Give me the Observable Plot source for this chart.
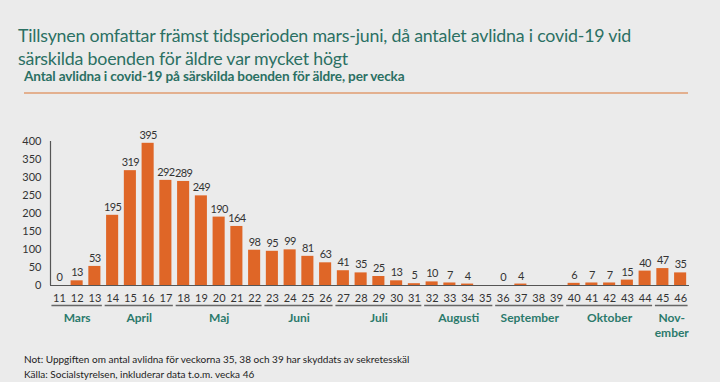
<!DOCTYPE html>
<html><head><meta charset="utf-8">
<script src="https://cdn.jsdelivr.net/npm/d3@7"></script>
<script src="https://cdn.jsdelivr.net/npm/@observablehq/plot@0.6"></script>
<style>
html,body{margin:0;padding:0;background:#ebebeb;width:720px;height:382px;overflow:hidden;font-family:Lato,"Open Sans",sans-serif;}
#title{position:absolute;left:18px;top:24px;font-size:17.8px;line-height:23px;color:#2b7063;letter-spacing:-0.2px;}
#subtitle{position:absolute;left:24px;top:68px;font-size:13.6px;font-weight:bold;color:#2b7063;letter-spacing:-0.15px;}
#line{position:absolute;left:24px;top:92px;width:664px;height:2px;background:#e3b08f;}
#chart{position:absolute;left:0;top:100px;}
#notes{position:absolute;left:24px;top:352px;font-size:10px;line-height:15px;color:#222;}
.vals text{letter-spacing:-0.6px;}
</style></head>
<body>
<div id="title">Tillsynen omfattar främst tidsperioden mars-juni, då antalet avlidna i covid-19 vid<br>särskilda boenden för äldre var mycket högt</div>
<div id="subtitle">Antal avlidna i covid-19 på särskilda boenden för äldre, per vecka</div>
<div id="line"></div>
<div id="chart"></div>
<div id="notes">Not: Uppgiften om antal avlidna för veckorna 35, 38 och 39 har skyddats av sekretesskäl<br>Källa: Socialstyrelsen, inkluderar data t.o.m. vecka 46</div>
<script>
const weeks = [11,12,13,14,15,16,17,18,19,20,21,22,23,24,25,26,27,28,29,30,31,32,33,34,35,36,37,38,39,40,41,42,43,44,45,46];
const deaths = [0,13,53,195,319,395,292,289,249,190,164,98,95,99,81,63,41,35,25,13,5,10,7,4,null,0,4,null,null,6,7,7,15,40,47,35];
const months = ["Mars","April","Maj","Juni","Juli","Augusti","September","Oktober","Nov-\nember"];
const monthFirst = [11,14,18,23,27,32,36,40,45];
const monthLast = [13,17,22,26,31,35,39,44,46];
const yTicks = [0,50,100,150,200,250,300,350,400];

const data = weeks.map((w,i)=>({week:w, value:deaths[i]}));
const known = data.filter(d=>d.value!==null);
const monthData = months.map((m,i)=>({name:m, first:monthFirst[i], last:monthLast[i]}));

const orange = "#df6627";
const teal = "#2b7a6c";
const ink = "#333";

const plot = Plot.plot({
  width: 720, height: 245,
  marginLeft: 50, marginRight: 31, marginTop: 41, marginBottom: 60,
  style: {background: "transparent", fontFamily: "Lato, sans-serif", color: ink, overflow: "visible"},
  x: {domain: [10.5, 46.5], axis: null},
  y: {domain: [0, 400], axis: null},
  marks: [
    Plot.rectY(known.filter(d=>d.value>0), {x1: d=>d.week-0.34, x2: d=>d.week+0.34, y: "value", fill: orange}),
    Plot.ruleX([10.5], {y1: 0, y2: 400, stroke: "#555", strokeWidth: 1.2}),
    Plot.ruleY([0], {x1: 10.5, x2: 46.5, stroke: "#555", strokeWidth: 1.2}),
    Plot.text(yTicks, {x: 10.5, y: d=>d, text: d=>String(d), textAnchor: "end", dx: -9, fontSize: 11, fill: ink}),
    Plot.text(known, {x: "week", y: "value", text: d=>String(d.value), dy: -8, fontSize: 11, fill: ink, className: "vals"}),
    Plot.text(weeks, {x: d=>d, y: 0, text: d=>String(d), dy: 13, fontSize: 11, fill: ink}),
    Plot.ruleY(monthData, {x1: d=>d.first-0.42, x2: d=>d.last+0.42, y: 0, dy: 20, stroke: "#666", strokeWidth: 1.5}),
    Plot.text(monthData, {x: d=>(d.first+d.last)/2, y: 0, text: "name", dy: 26, lineAnchor: "top", lineHeight: 1.25, fontSize: 12, fontWeight: "bold", fill: teal})
  ]
});
document.getElementById("chart").appendChild(plot);
</script>
</body></html>
